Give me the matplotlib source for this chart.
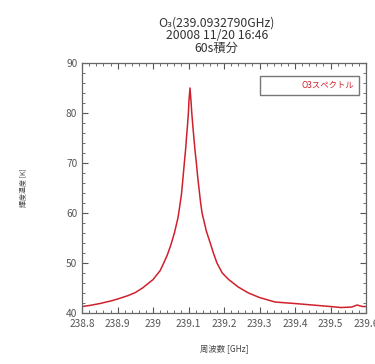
import matplotlib
matplotlib.use("Agg")
import matplotlib.pyplot as plt
from matplotlib.ticker import MultipleLocator

plt.rcParams['font.family'] = ['Noto Sans CJK JP', 'DejaVu Sans']

# 周波数 [GHz] / 輝度温度 [K]
freq = [238.80, 238.82, 238.85, 238.88, 238.90, 238.93, 238.95, 238.97,
        239.00, 239.02, 239.03, 239.04, 239.05, 239.06, 239.07, 239.075,
        239.08, 239.084, 239.088, 239.092, 239.094, 239.097, 239.0995,
        239.101, 239.104, 239.107, 239.109, 239.112, 239.115, 239.118,
        239.122, 239.126, 239.130, 239.134, 239.138, 239.150, 239.161,
        239.170, 239.180, 239.195, 239.213, 239.24, 239.269, 239.30,
        239.344, 239.40, 239.45, 239.50, 239.53, 239.56, 239.575, 239.59,
        239.60]
temp = [41.3, 41.5, 41.9, 42.4, 42.8, 43.5, 44.1, 45.0,
        46.7, 48.5, 50.0, 51.6, 53.6, 56.0, 59.0, 61.3,
        63.8, 66.8, 70.0, 73.0, 75.0, 77.6, 80.0,
        82.4, 85.0, 82.2, 80.0, 77.4, 75.0, 72.6,
        70.0, 67.0, 64.5, 62.0, 60.0, 56.4, 54.0,
        52.0, 50.0, 48.0, 46.7, 45.2, 44.0, 43.1,
        42.2, 41.9, 41.6, 41.3, 41.1, 41.2, 41.6, 41.3,
        41.3]

xticks = [238.8, 238.9, 239.0, 239.1, 239.2, 239.3, 239.4, 239.5, 239.6]
xticklabels = ['238.8', '238.9', '239', '239.1', '239.2', '239.3', '239.4', '239.5', '239.6']
yticks = [40, 50, 60, 70, 80, 90]

fig = plt.figure(figsize=(3.75, 3.64), dpi=100)
ax = fig.add_axes([0.219, 0.140, 0.757, 0.687])

line, = ax.plot(freq, temp, color='#d0202c', lw=1.1, label='O3スペクトル')

ax.set_xlim(238.8, 239.6)
ax.set_ylim(40, 90)
ax.set_xticks(xticks)
ax.set_xticklabels(xticklabels)
ax.set_yticks(yticks)
ax.xaxis.set_minor_locator(MultipleLocator(0.02))
ax.yaxis.set_minor_locator(MultipleLocator(2))
ax.tick_params(which='both', direction='in', top=True, right=True,
               colors='#555555', labelsize=7.3)
ax.tick_params(which='major', length=4, width=0.8)
ax.tick_params(which='minor', length=2, width=0.6)
ax.tick_params(axis='x', pad=4)
for s in ax.spines.values():
    s.set_color('#666666')
    s.set_linewidth(0.9)

ax.set_xlabel('周波数 [GHz]', fontsize=6, color='#444444', labelpad=11)
ax.set_ylabel('輝度温度 [K]', fontsize=5, color='#444444', labelpad=27)

fig.text(0.578, 0.955, 'O₃(239.0932790GHz)\n20008 11/20 16:46\n60s積分',
         ha='center', va='top', fontsize=8.8, color='#333333', linespacing=1.0)

leg = ax.legend(loc='upper right', bbox_to_anchor=(0.99, 0.965), fontsize=6,
                frameon=True, fancybox=False, edgecolor='#555555',
                labelcolor='#d0202c', handlelength=3.5, borderpad=0.6)
leg.get_frame().set_linewidth(1.0)
for h in leg.legend_handles:
    h.set_visible(False)

fig.savefig('out.png', dpi=100)
